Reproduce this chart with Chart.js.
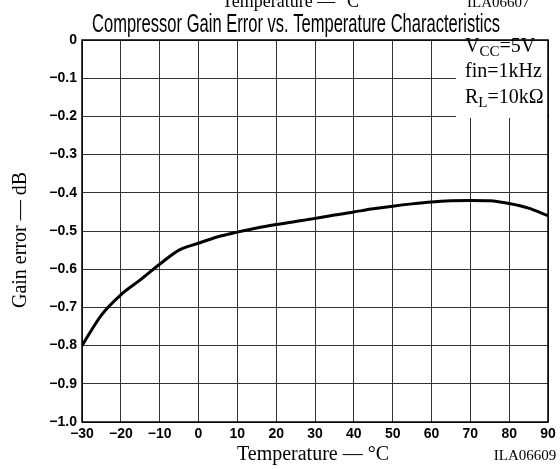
<!DOCTYPE html>
<html>
<head>
<meta charset="utf-8">
<script src="https://cdn.jsdelivr.net/npm/chart.js@4/dist/chart.umd.min.js"></script>
<style>
  body { margin: 0; background: #fff; }
  canvas { display: block; }
</style>
</head>
<body>
<canvas id="gainChart" width="560" height="469"></canvas>
<script>
const temps = [-30, -25, -20, -15, -10, -5, 0, 5, 10, 15, 20, 25, 30, 35, 40, 45, 50, 55, 60, 65, 70, 75, 80, 85, 90];
const gainError = [-0.80, -0.72, -0.667, -0.628, -0.587, -0.55, -0.532, -0.515, -0.503, -0.492, -0.483, -0.475, -0.467, -0.458, -0.45, -0.442, -0.435, -0.429, -0.424, -0.421, -0.42, -0.421, -0.428, -0.44, -0.46];
const xTicks = [-30, -20, -10, 0, 10, 20, 30, 40, 50, 60, 70, 80, 90];
const yTicks = [0, -0.1, -0.2, -0.3, -0.4, -0.5, -0.6, -0.7, -0.8, -0.9, -1.0];
const conditions = [["V", "CC", "=5V"], ["fin=1kHz", "", ""], ["R", "L", "=10k\u03A9"]];

const SANS = "'Liberation Sans', Arial, sans-serif";
const SERIF = "'Liberation Serif', 'Times New Roman', serif";

function fmtTick(v) {
  if (Math.abs(v) < 1e-9) return "0";
  return "\u2212" + Math.abs(v).toFixed(1);
}

const decorPlugin = {
  id: "decor",
  beforeDatasetsDraw(chart) {
    const { ctx, chartArea: a } = chart;
    // condition box in upper right
    ctx.save();
    ctx.fillStyle = "#fff";
    ctx.fillRect(456, a.top + 1, a.right - 456 - 1, 77);
    ctx.fillStyle = "#000";
    ctx.textBaseline = "alphabetic";
    const rows = [52, 77, 103];
    conditions.forEach((c, i) => {
      let x = 465;
      ctx.font = "20px " + SERIF;
      ctx.fillText(c[0], x, rows[i]);
      x += ctx.measureText(c[0]).width;
      if (c[1]) {
        ctx.font = "15px " + SERIF;
        ctx.fillText(c[1], x, rows[i] + 4);
        x += ctx.measureText(c[1]).width;
      }
      ctx.font = "20px " + SERIF;
      ctx.fillText(c[2], x, rows[i]);
    });
    ctx.restore();
  },
  afterDraw(chart) {
    const { ctx, chartArea: a } = chart;
    ctx.save();
    ctx.strokeStyle = "#000";
    ctx.lineWidth = 1.5;
    ctx.strokeRect(a.left, a.top, a.right - a.left, a.bottom - a.top);

    // clipped caption from the previous figure
    ctx.fillStyle = "#000";
    ctx.font = "18px " + SERIF;
    ctx.textAlign = "left";
    ctx.textBaseline = "alphabetic";
    ctx.fillText("Temperature \u2014 \u00B0C", 222, 7);
    ctx.font = "15px " + SERIF;
    ctx.fillText("ILA06607", 467, 7);

    // title, condensed
    ctx.font = "25px " + SANS;
    const title = "Compressor Gain Error vs. Temperature Characteristics";
    const w = ctx.measureText(title).width;
    ctx.translate(296, 32);
    ctx.scale(408 / w, 1);
    ctx.textAlign = "center";
    ctx.fillText(title, 0, 0);
    ctx.restore();

    // axis titles
    ctx.save();
    ctx.fillStyle = "#000";
    ctx.font = "20px " + SERIF;
    ctx.textAlign = "center";
    ctx.textBaseline = "middle";
    ctx.fillText("Temperature \u2014 \u00B0C", 313, 455);
    ctx.font = "15px " + SERIF;
    ctx.fillText("ILA06609", 525, 456);
    ctx.translate(21, 240);
    ctx.rotate(-Math.PI / 2);
    ctx.font = "20px " + SERIF;
    ctx.fillText("Gain error \u2014 dB", 0, 0);
    ctx.restore();
  }
};

new Chart(document.getElementById("gainChart"), {
  type: "line",
  data: {
    datasets: [{
      data: temps.map((t, i) => ({ x: t, y: gainError[i] })),
      borderColor: "#000",
      borderWidth: 3,
      pointRadius: 0,
      fill: false,
      cubicInterpolationMode: "monotone"
    }]
  },
  options: {
    responsive: false,
    animation: false,
    layout: { padding: { top: 40, right: 12, left: 0, bottom: 0 } },
    plugins: { legend: { display: false }, tooltip: { enabled: false } },
    scales: {
      x: {
        type: "linear",
        min: -30,
        max: 90,
        afterFit: s => { s.height = 47; },
        afterBuildTicks: s => { s.ticks = xTicks.map(v => ({ value: v })); },
        ticks: {
          padding: 4,
          color: "#000",
          font: { family: SANS, size: 14, weight: "bold" },
          callback: v => (v < 0 ? "\u2212" + Math.abs(v) : String(v))
        },
        grid: { color: "#333", lineWidth: 1, drawTicks: false },
        border: { display: false }
      },
      y: {
        type: "linear",
        min: -1,
        max: 0,
        afterFit: s => { s.width = 82; },
        afterBuildTicks: s => { s.ticks = yTicks.map(v => ({ value: v })); },
        ticks: {
          padding: 5,
          color: "#000",
          font: { family: SANS, size: 14, weight: "bold" },
          callback: v => fmtTick(v)
        },
        grid: { color: "#333", lineWidth: 1, drawTicks: false },
        border: { display: false }
      }
    }
  },
  plugins: [decorPlugin]
});
</script>
</body>
</html>
